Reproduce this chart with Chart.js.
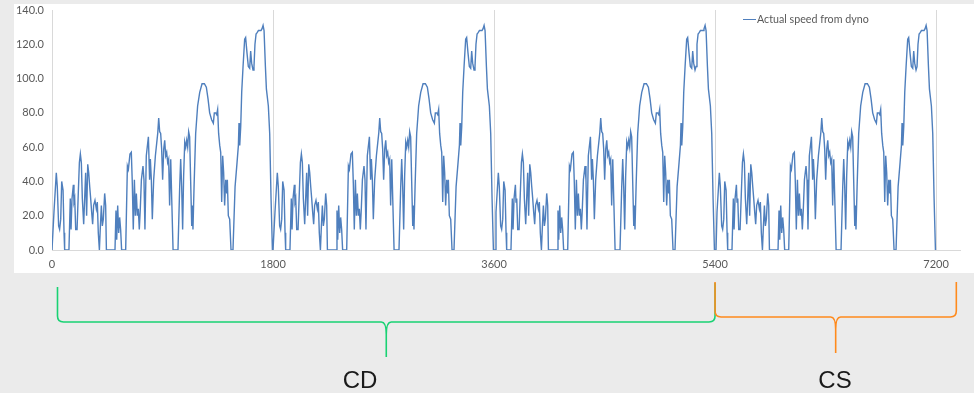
<!DOCTYPE html>
<html>
<head>
<meta charset="utf-8">
<script src="https://cdn.jsdelivr.net/npm/chart.js@4.4.1/dist/chart.umd.min.js"></script>
<style>
  html, body { margin: 0; padding: 0; background: #ebebeb; }
  #wrap { position: relative; width: 974px; height: 393px; overflow: hidden; }
  #c { position: absolute; left: 0; top: 0; }
  .legend { position: absolute; left: 743px; top: 12px; font: 10.7px Lato, "Open Sans", sans-serif; color: #595959; white-space: nowrap; }
  .legend .sw { display: inline-block; width: 13px; height: 0; border-top: 1.5px solid #4f7fbd; vertical-align: middle; margin-right: 1px; position: relative; top: -1px; }
  .phase { position: absolute; top: 366px; font: 24px "Liberation Sans", Arial, sans-serif; color: #1a1a1a; transform: translateX(-50%); }
</style>
</head>
<body>
<div id="wrap">
  <canvas id="c" width="974" height="393"></canvas>
  <div class="legend"><span class="sw"></span>Actual speed from dyno</div>
  <div class="phase" style="left:360px">CD</div>
  <div class="phase" style="left:835px">CS</div>
</div>
<script>
// One test cycle: time in s, speed in km/h
const cycleTime = [0,8,16,35,43,54,62,71,79,90,98,103,138,149,155,163,174,179,185,193,204,214,223,231,239,247,258,266,274,282,291,299,307,315,323,331,339,350,361,369,377,386,394,402,410,418,429,437,443,513,521,527,535,543,551,559,567,600,614,622,635,646,654,662,671,679,687,695,703,711,719,728,741,749,757,768,785,795,801,809,817,828,842,861,869,877,885,893,901,910,918,926,934,942,950,958,967,975,986,1026,1040,1048,1056,1064,1072,1081,1089,1097,1105,1113,1121,1129,1138,1143,1148,1157,1170,1186,1203,1222,1241,1257,1271,1284,1300,1314,1322,1333,1341,1349,1357,1366,1374,1382,1390,1398,1406,1415,1423,1428,1436,1447,1458,1474,1491,1507,1518,1523,1529,1537,1545,1556,1569,1577,1588,1599,1610,1618,1626,1637,1645,1653,1662,1672,1681,1691,1702,1710,1719,1727,1738,1746,1762,1773,1784,1795,1800];
const cycleSpeed = [0,0,22,45,37,14,12,18,40,35,10,0,0,30,12,30,38,28,30,12,12,33,51,56,51,30,15,30,45,20,50,45,37,30,22,15,26,29,24,28,10,0,14,26,14,18,33,26,0,0,23,6,26,10,19,12,0,0,49,47,56,57,39,12,41,20,33,20,24,12,24,41,49,41,12,55,66,41,53,41,18,41,55,68,77,69,68,59,41,59,64,55,57,51,53,26,53,30,0,0,37,53,37,12,43,63,60,64,60,69,66,41,14,26,12,37,68,84,92,97,97,95,88,80,76,74,80,80,79,82,68,61,57,28,55,45,26,41,33,41,20,18,0,0,37,51,61,74,61,72,92,107,123,124,115,107,106,116,109,105,107,120,126,127,128,128,128,129,131,128,107,94,84,68,30,0,0];
// Cycle start times (three charge-depleting + one charge-sustaining)
const cycleStarts = [0, 1800, 3600, 5400];
const xTicks = [0, 1800, 3600, 5400, 7200];
const yTicks = [0, 20, 40, 60, 80, 100, 120, 140];
const seriesLabel = 'Actual speed from dyno';
const phases = [
  { label: 'CD', from: 40, to: 5400, color: '#19d273' },
  { label: 'CS', from: 5400, to: 7365, color: '#ff8a1c' }
];

const points = [];
cycleStarts.forEach(s => {
  cycleTime.forEach((t, i) => points.push({ x: s + t, y: cycleSpeed[i] }));
});

const panelBg = {
  id: 'panelBg',
  beforeDraw(chart) {
    const ctx = chart.ctx;
    ctx.save();
    ctx.fillStyle = '#ffffff';
    ctx.fillRect(14, 4, 960, 269);
    ctx.restore();
  }
};

const brackets = {
  id: 'brackets',
  afterDraw(chart) {
    const ctx = chart.ctx;
    const xs = chart.scales.x;
    const specs = [
      { top: 287, topR: 283, mid: 322, tip: 357 },
      { top: 282, topR: 282, mid: 317, tip: 353 }
    ];
    phases.forEach((p, k) => {
      const s = specs[k];
      let a = xs.getPixelForValue(p.from);
      let b = xs.getPixelForValue(p.to);
      if (k === 0) a = Math.round(a) + 0.5;
      const m = (a + b) / 2;
      const r = 6;
      ctx.save();
      ctx.strokeStyle = p.color;
      ctx.lineWidth = 1.6;
      ctx.beginPath();
      ctx.moveTo(a, s.top);
      ctx.lineTo(a, s.mid - r);
      ctx.quadraticCurveTo(a, s.mid, a + r, s.mid);
      ctx.lineTo(m - 5, s.mid);
      ctx.quadraticCurveTo(m, s.mid, m, s.mid + 12);
      ctx.lineTo(m, s.tip);
      ctx.moveTo(m, s.mid + 12);
      ctx.quadraticCurveTo(m, s.mid, m + 5, s.mid);
      ctx.lineTo(b - r, s.mid);
      ctx.quadraticCurveTo(b, s.mid, b, s.mid - r);
      ctx.lineTo(b, s.topR);
      ctx.stroke();
      ctx.restore();
    });
  }
};

const tickFont = { family: 'Lato, "Open Sans", sans-serif', size: 11 };

new Chart(document.getElementById('c'), {
  type: 'line',
  data: {
    datasets: [{
      label: seriesLabel,
      data: points,
      borderColor: '#4f7fbd',
      borderWidth: 1.4,
      pointRadius: 0,
      tension: 0,
      fill: false
    }]
  },
  options: {
    responsive: false,
    animation: false,
    devicePixelRatio: 1,
    layout: { padding: { left: 14, right: 14, top: 10, bottom: 120 } },
    plugins: { legend: { display: false }, tooltip: { enabled: false } },
    scales: {
      x: {
        type: 'linear',
        min: 0,
        max: 7395,
        afterBuildTicks: (sc) => { sc.ticks = xTicks.map(v => ({ value: v })); },
        afterFit: (sc) => { sc.height = 23; sc.paddingLeft = 0; sc.paddingRight = 0; },
        ticks: { font: tickFont, color: '#595959', padding: 8, maxRotation: 0, autoSkip: false,
                 callback: v => String(v) },
        grid: { color: '#d9d9d9', drawTicks: false, lineWidth: 1 },
        border: { color: '#d9d9d9' }
      },
      y: {
        min: 0,
        max: 140,
        afterBuildTicks: (sc) => { sc.ticks = yTicks.map(v => ({ value: v })); },
        afterFit: (sc) => { sc.width = 38; sc.paddingTop = 0; sc.paddingBottom = 0; },
        ticks: { font: tickFont, color: '#595959', padding: 8, callback: v => Number(v).toFixed(1) },
        grid: { display: false, drawTicks: false },
        border: { color: '#d9d9d9' }
      }
    }
  },
  plugins: [panelBg, brackets]
});
</script>
</body>
</html>
